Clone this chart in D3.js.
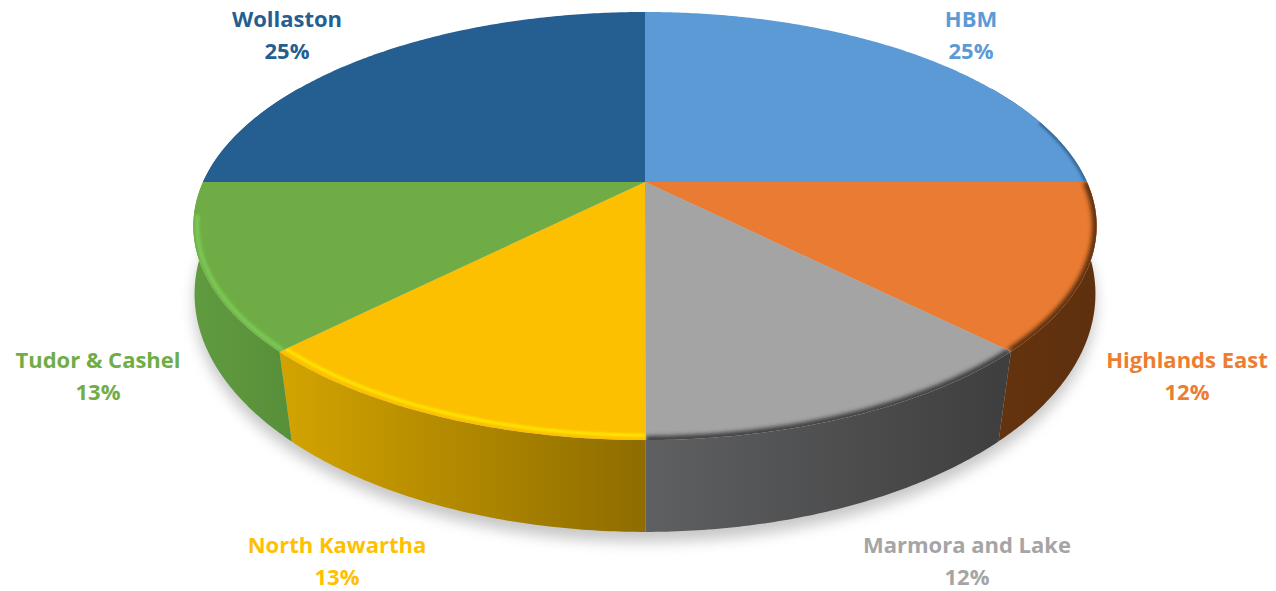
<!DOCTYPE html>
<html>
<head>
<meta charset="utf-8">
<script src="https://cdn.jsdelivr.net/npm/d3@7"></script>
<style>
html, body { margin: 0; padding: 0; background: #fff; overflow: hidden; }
text { font-family: "Open Sans", sans-serif; font-weight: 700; }
</style>
</head>
<body>
<div id="chart"></div>
<script>
// chart data
const categories = ["HBM", "Highlands East", "Marmora and Lake", "North Kawartha", "Tudor & Cashel", "Wollaston"];
const values = [25, 12.49, 12.49, 12.51, 12.51, 25];

// styles, same order as the categories
const topColors = ["#5b9ad5", "#ea7b32", "#a4a4a4", "#fdc000", "#6fac46", "#255e91"];
const labelColors = ["#5b9bd5", "#ed7d31", "#a5a5a5", "#ffc000", "#70ad47", "#255e91"];
const wallLeft = ["#2c5478", "#64330f", "#5f6062", "#d3a400", "#609b40", "#264f78"];
const wallRight = ["#2c5478", "#5e300e", "#3e3e3e", "#8e6c00", "#588f39", "#264f78"];
const rimColors = ["#2f5a84", "#5a2f10", "#3c3c3c", "#ffe800", "#7ccc55", "none"];
const rimInset = [0.998, 0.998, 0.998, 0.985, 0.992, 0.99];
const rimWidth = [3, 7, 7, 3, 4, 0];
const rimBlur = [1.5, 2.2, 2.2, 1.2, 1.5, 1];
const labelPos = [[971, 27], [1187, 368], [967, 553], [337, 553], [98, 368], [287, 27]];

const width = 1276, height = 591;
// each disc is a circle seen in perspective (p = tilt)
const topDisc = { cx: 645, cy: 182, a: 442, b: 205, p: -0.2056 };
const baseDisc = { cx: 645, cy: 257, a: 445, b: 232.3, p: -0.155 };

// angle clockwise from 12 o'clock -> screen point on a disc
function project(disc, angle, r = 1) {
    const u = r * Math.sin(angle), v = -r * Math.cos(angle);
    const w = 1 + disc.p * v;
    return [disc.cx + disc.a * u / w, disc.cy + disc.b * v / w];
}
function arcPoints(disc, a0, a1, r = 1) {
    const n = Math.max(2, Math.ceil((a1 - a0) / 0.01));
    return d3.range(n + 1).map(i => project(disc, a0 + (a1 - a0) * i / n, r));
}

const svg = d3.select("#chart").append("svg")
    .attr("width", width).attr("height", height)
    .style("display", "block");
const defs = svg.append("defs");
defs.append("filter").attr("id", "shadowBlur")
    .attr("x", "-10%").attr("y", "-10%").attr("width", "120%").attr("height", "120%")
    .append("feGaussianBlur").attr("stdDeviation", 7);
rimBlur.forEach((s, i) => {
    defs.append("filter").attr("id", "rimBlur" + i)
        .attr("filterUnits", "userSpaceOnUse")
        .attr("x", 0).attr("y", 0).attr("width", width).attr("height", height)
        .append("feGaussianBlur").attr("stdDeviation", s);
});

const pie = d3.pie().sort(null).value(d => d)(values);
const lineGen = d3.line();
const frontStart = Math.PI / 3, frontEnd = Math.PI * 5 / 3;
const rimStart = Math.PI * 0.4, rimEnd = Math.PI * 1.45;

// soft shadow under the disc
svg.append("path")
    .attr("d", lineGen(arcPoints(baseDisc, 0, Math.PI * 2)) + "Z")
    .attr("transform", "translate(0, 10)")
    .attr("fill", "#9a9a9a").attr("opacity", 0.55)
    .attr("filter", "url(#shadowBlur)");

// side walls, only the part that faces the viewer
pie.forEach((d, i) => {
    const a0 = Math.max(d.startAngle, frontStart), a1 = Math.min(d.endAngle, frontEnd);
    if (a1 <= a0) return;
    const upper = arcPoints(topDisc, a0, a1), lower = arcPoints(baseDisc, a0, a1);
    const xs = upper.concat(lower).map(p => p[0]);
    const grad = defs.append("linearGradient").attr("id", "wall" + i)
        .attr("gradientUnits", "userSpaceOnUse")
        .attr("x1", d3.min(xs)).attr("x2", d3.max(xs)).attr("y1", 0).attr("y2", 0);
    grad.append("stop").attr("offset", 0).attr("stop-color", wallLeft[i]);
    grad.append("stop").attr("offset", 1).attr("stop-color", wallRight[i]);
    svg.append("path")
        .attr("d", lineGen(upper.concat(lower.reverse())) + "Z")
        .attr("fill", `url(#wall${i})`);
});

// top face with the bevel along the front rim
pie.forEach((d, i) => {
    const outline = lineGen([project(topDisc, 0, 0)].concat(arcPoints(topDisc, d.startAngle, d.endAngle))) + "Z";
    defs.append("clipPath").attr("id", "slice" + i).append("path").attr("d", outline);
    svg.append("path").attr("d", outline).attr("fill", topColors[i]);
    const a0 = Math.max(d.startAngle, rimStart), a1 = Math.min(d.endAngle, rimEnd);
    if (a1 <= a0 || rimWidth[i] === 0) return;
    svg.append("g").attr("clip-path", `url(#slice${i})`)
        .append("path")
        .attr("d", lineGen(arcPoints(topDisc, a0, a1, rimInset[i])))
        .attr("fill", "none")
        .attr("stroke", rimColors[i]).attr("stroke-width", rimWidth[i])
        .attr("filter", `url(#rimBlur${i})`);
});

// labels
categories.forEach((name, i) => {
    const label = svg.append("text")
        .attr("text-anchor", "middle")
        .attr("font-size", 22)
        .attr("fill", labelColors[i]);
    label.append("tspan").attr("x", labelPos[i][0]).attr("y", labelPos[i][1]).text(name);
    label.append("tspan").attr("x", labelPos[i][0]).attr("y", labelPos[i][1] + 32)
        .text(Math.round(values[i]) + "%");
});
</script>
</body>
</html>
